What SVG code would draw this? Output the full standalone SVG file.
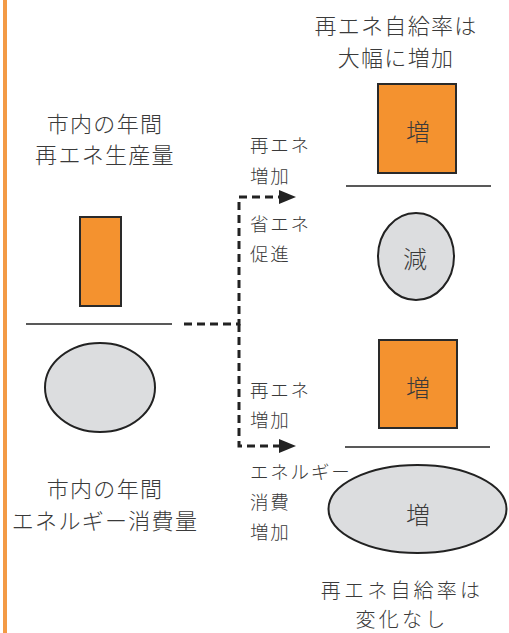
<svg xmlns="http://www.w3.org/2000/svg" width="509" height="633" viewBox="0 0 509 633">
<style>
.t{font-family:"Noto Sans CJK JP","Liberation Sans",sans-serif;fill:#3a3a3a;font-weight:300}
.title{font-size:22px;letter-spacing:1.3px;text-anchor:middle}
.title2{font-size:20px;letter-spacing:3.2px;text-anchor:middle}
.lab{font-size:18.5px;letter-spacing:1.8px}
.inner{font-size:24px;text-anchor:middle}
.bar{fill:#F4922F;stroke:#2a2a2a;stroke-width:2}
.ell{fill:#DCDDDF;stroke:#222;stroke-width:2}
.base{stroke:#222;stroke-width:1.6}
.dash{fill:none;stroke:#222;stroke-width:3;stroke-dasharray:8 5}
</style>
<defs>
<marker id="ah" markerWidth="18" markerHeight="14" refX="0" refY="7" orient="auto" markerUnits="userSpaceOnUse">
<path d="M0,0 L17,7 L0,14 Z" fill="#222"/>
</marker>
</defs>
<rect x="0" y="0" width="509" height="633" fill="#fff"/>
<rect x="3" y="0" width="4" height="633" fill="#F39A45"/>

<g id="left-prod">
<text class="t title" x="105" y="132">市内の年間</text>
<text class="t title" x="105" y="163">再エネ生産量</text>
<rect class="bar" x="80" y="217" width="41" height="89"/>
<line class="base" x1="26" y1="324" x2="172" y2="324"/>
</g>
<g id="left-cons">
<ellipse class="ell" cx="100" cy="387.5" rx="55" ry="44.5"/>
<text class="t title" x="105" y="497">市内の年間</text>
<text class="t title" x="105" y="529">エネルギー消費量</text>
</g>

<g id="connectors">
<path class="dash" d="M184,324 H239 V197 H279" marker-end="url(#ah)"/>
<path class="dash" d="M239,324 V446 H279" marker-end="url(#ah)"/>
</g>

<g id="labels-top">
<text class="t lab" x="250" y="152">再エネ</text>
<text class="t lab" x="250" y="183">増加</text>
<text class="t lab" x="250" y="231">省エネ</text>
<text class="t lab" x="250" y="261">促進</text>
</g>
<g id="labels-bottom">
<text class="t lab" x="250" y="397">再エネ</text>
<text class="t lab" x="250" y="427">増加</text>
<text class="t lab" x="250" y="479">エネルギー</text>
<text class="t lab" x="250" y="509">消費</text>
<text class="t lab" x="250" y="539">増加</text>
</g>

<g id="right-top">
<text class="t title" x="396" y="34">再エネ自給率は</text>
<text class="t title" x="396" y="66">大幅に増加</text>
<rect class="bar" x="378" y="84" width="78" height="89"/>
<text class="t inner" x="418" y="141">増</text>
<line class="base" x1="346" y1="186" x2="491" y2="186"/>
<ellipse class="ell" cx="416" cy="256.5" rx="38" ry="43.5"/>
<text class="t inner" x="415" y="268">減</text>
</g>

<g id="right-bottom">
<rect class="bar" x="379" y="340" width="78" height="88"/>
<text class="t inner" x="418" y="397">増</text>
<line class="base" x1="345" y1="447" x2="490" y2="447"/>
<ellipse class="ell" cx="417.5" cy="509" rx="89" ry="44"/>
<text class="t inner" x="418" y="524">増</text>
<text class="t title2" x="402" y="598">再エネ自給率は</text>
<text class="t title2" x="402" y="627">変化なし</text>
</g>
</svg>
